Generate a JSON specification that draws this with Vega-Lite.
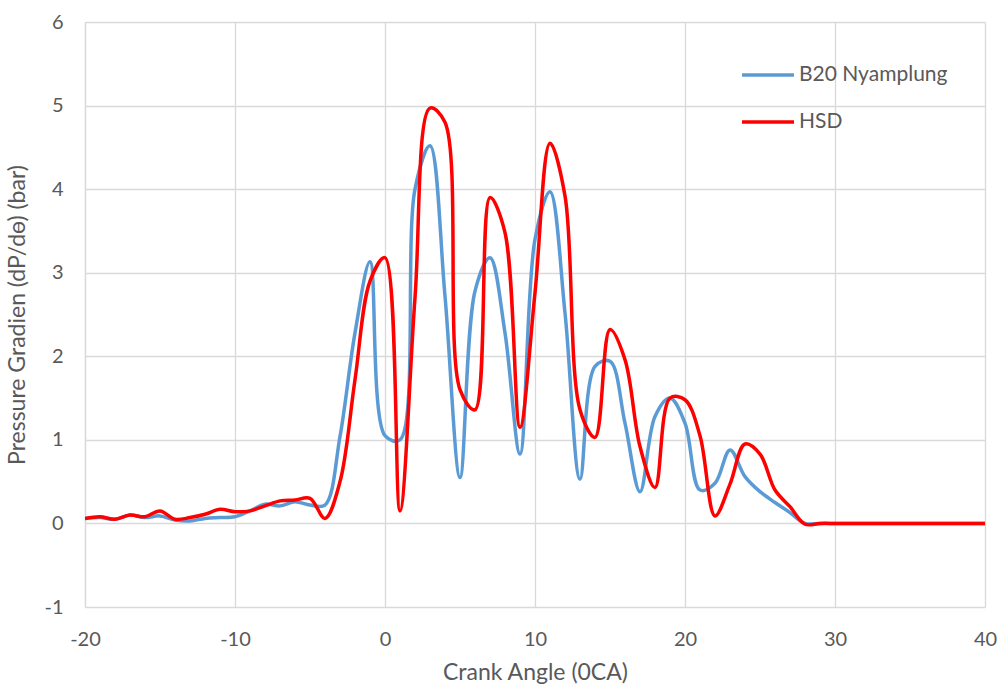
{
  "$schema": "https://vega.github.io/schema/vega-lite/v6.json",
  "width": 900,
  "height": 585,
  "autosize": {"type": "none"},
  "padding": {"left": 85, "top": 22, "right": 17, "bottom": 82},
  "background": "white",
  "config": {
    "font": "Lato",
    "view": {"stroke": null},
    "axis": {"gridColor": "#D9D9D9", "gridWidth": 1.3, "domainColor": "#D9D9D9", "domainWidth": 1.3, "ticks": false, "labelColor": "#595959", "titleColor": "#595959", "labelFontSize": 20, "titleFontSize": 23, "titleFontWeight": "normal", "labelFont": "Lato", "titleFont": "Lato"}
  },
  "datasets": {
    "rows": [
      {"angle": -20, "B20 Nyamplung": 0.06, "HSD": 0.06},
      {"angle": -19, "B20 Nyamplung": 0.07, "HSD": 0.08},
      {"angle": -18, "B20 Nyamplung": 0.05, "HSD": 0.05},
      {"angle": -17, "B20 Nyamplung": 0.1, "HSD": 0.1},
      {"angle": -16, "B20 Nyamplung": 0.07, "HSD": 0.08},
      {"angle": -15, "B20 Nyamplung": 0.09, "HSD": 0.15},
      {"angle": -14, "B20 Nyamplung": 0.04, "HSD": 0.05},
      {"angle": -13, "B20 Nyamplung": 0.03, "HSD": 0.07},
      {"angle": -12, "B20 Nyamplung": 0.06, "HSD": 0.11},
      {"angle": -11, "B20 Nyamplung": 0.07, "HSD": 0.17},
      {"angle": -10, "B20 Nyamplung": 0.08, "HSD": 0.14},
      {"angle": -9, "B20 Nyamplung": 0.15, "HSD": 0.15},
      {"angle": -8, "B20 Nyamplung": 0.23, "HSD": 0.21},
      {"angle": -7, "B20 Nyamplung": 0.21, "HSD": 0.27},
      {"angle": -6, "B20 Nyamplung": 0.26, "HSD": 0.28},
      {"angle": -5, "B20 Nyamplung": 0.22, "HSD": 0.3},
      {"angle": -4, "B20 Nyamplung": 0.22, "HSD": 0.06},
      {"angle": -3, "B20 Nyamplung": 1.04, "HSD": 0.5},
      {"angle": -2, "B20 Nyamplung": 2.28, "HSD": 1.72},
      {"angle": -1, "B20 Nyamplung": 3.13, "HSD": 2.9},
      {"angle": 0, "B20 Nyamplung": 1.05, "HSD": 3.18},
      {"angle": 1, "B20 Nyamplung": 1.0, "HSD": 0.15},
      {"angle": 2, "B20 Nyamplung": 4.0, "HSD": 2.7},
      {"angle": 3, "B20 Nyamplung": 4.52, "HSD": 4.97},
      {"angle": 4, "B20 Nyamplung": 2.72, "HSD": 4.8},
      {"angle": 5, "B20 Nyamplung": 0.55, "HSD": 1.6},
      {"angle": 6, "B20 Nyamplung": 2.78, "HSD": 1.36},
      {"angle": 7, "B20 Nyamplung": 3.18, "HSD": 3.9},
      {"angle": 8, "B20 Nyamplung": 2.28, "HSD": 3.48},
      {"angle": 9, "B20 Nyamplung": 0.83, "HSD": 1.15},
      {"angle": 10, "B20 Nyamplung": 3.4, "HSD": 2.76},
      {"angle": 11, "B20 Nyamplung": 3.97, "HSD": 4.55},
      {"angle": 12, "B20 Nyamplung": 2.52, "HSD": 3.92},
      {"angle": 13, "B20 Nyamplung": 0.53, "HSD": 1.36},
      {"angle": 14, "B20 Nyamplung": 1.88, "HSD": 1.03},
      {"angle": 15, "B20 Nyamplung": 1.94, "HSD": 2.32},
      {"angle": 16, "B20 Nyamplung": 1.2, "HSD": 1.96},
      {"angle": 17, "B20 Nyamplung": 0.38, "HSD": 0.92},
      {"angle": 18, "B20 Nyamplung": 1.28, "HSD": 0.43},
      {"angle": 19, "B20 Nyamplung": 1.5, "HSD": 1.5},
      {"angle": 20, "B20 Nyamplung": 1.2, "HSD": 1.48},
      {"angle": 21, "B20 Nyamplung": 0.4, "HSD": 1.05},
      {"angle": 22, "B20 Nyamplung": 0.48, "HSD": 0.09},
      {"angle": 23, "B20 Nyamplung": 0.88, "HSD": 0.47},
      {"angle": 24, "B20 Nyamplung": 0.56, "HSD": 0.95},
      {"angle": 25, "B20 Nyamplung": 0.38, "HSD": 0.83},
      {"angle": 26, "B20 Nyamplung": 0.25, "HSD": 0.4},
      {"angle": 27, "B20 Nyamplung": 0.13, "HSD": 0.2},
      {"angle": 28, "B20 Nyamplung": 0.0, "HSD": -0.01},
      {"angle": 29, "B20 Nyamplung": 0.0, "HSD": 0.0},
      {"angle": 30, "B20 Nyamplung": 0.0, "HSD": 0.0},
      {"angle": 31, "B20 Nyamplung": 0.0, "HSD": 0.0},
      {"angle": 32, "B20 Nyamplung": 0.0, "HSD": 0.0},
      {"angle": 33, "B20 Nyamplung": 0.0, "HSD": 0.0},
      {"angle": 34, "B20 Nyamplung": 0.0, "HSD": 0.0},
      {"angle": 35, "B20 Nyamplung": 0.0, "HSD": 0.0},
      {"angle": 36, "B20 Nyamplung": 0.0, "HSD": 0.0},
      {"angle": 37, "B20 Nyamplung": 0.0, "HSD": 0.0},
      {"angle": 38, "B20 Nyamplung": 0.0, "HSD": 0.0},
      {"angle": 39, "B20 Nyamplung": 0.0, "HSD": 0.0},
      {"angle": 40, "B20 Nyamplung": 0.0, "HSD": 0.0}
    ]
  },
  "data": {"name": "rows"},
  "transform": [
    {"fold": ["B20 Nyamplung", "HSD"], "as": ["series", "value"]}
  ],
  "mark": {"type": "line", "interpolate": "catmull-rom", "strokeWidth": 3.5, "clip": true},
  "encoding": {
    "x": {
      "field": "angle", "type": "quantitative",
      "scale": {"domain": [-20, 40], "nice": false},
      "axis": {"values": [-20, -10, 0, 10, 20, 30, 40], "labelExpr": "datum.value + ''", "labelFlush": false, "labelOverlap": false, "title": "Crank Angle (0CA)", "labelPadding": 22, "titlePadding": 12, "domain": false}
    },
    "y": {
      "field": "value", "type": "quantitative",
      "scale": {"domain": [-1, 6], "nice": false, "zero": false},
      "axis": {"values": [-1, 0, 1, 2, 3, 4, 5, 6], "labelExpr": "datum.value + ''", "labelFlush": false, "title": "Pressure Gradien (dP/dɵ) (bar)", "labelPadding": 22, "titlePadding": 14, "domain": true}
    },
    "color": {
      "field": "series", "type": "nominal",
      "scale": {"domain": ["B20 Nyamplung", "HSD"], "range": ["#5B9BD5", "#FF0000"]},
      "legend": {
        "title": null, "orient": "none", "legendX": 655, "legendY": 25,
        "symbolType": "stroke", "symbolSize": 2700, "symbolStrokeWidth": 3.5,
        "labelFontSize": 21, "labelColor": "#595959", "labelFont": "Lato",
        "rowPadding": 9, "labelOffset": 3
      }
    }
  }
}
